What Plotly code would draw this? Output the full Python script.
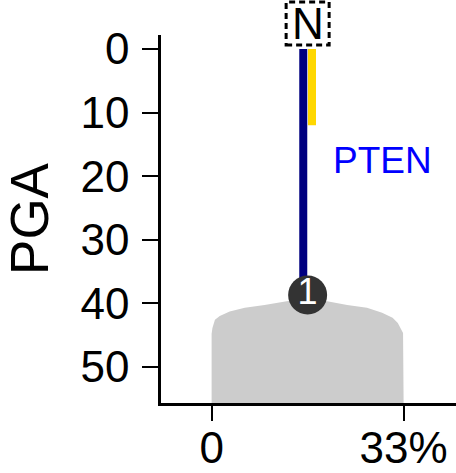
import plotly.graph_objects as go

# --- data ---
x_ticks = [0, 33]
x_ticklabels = ["0", "33%"]
y_ticks = [0, 10, 20, 30, 40, 50]

gene = "PTEN"
blue_x = [15.75, 15.75]
blue_y = [0, 38.7]
yellow_x = [17.25, 17.25]
yellow_y = [0, 12]

circle_x = [16.5]
circle_y = [38.7]
circle_label = ["1"]

density_x = [0, 0, 0.14, 0.57, 1.4, 3.1, 5.7, 9.1, 13.4, 16.3, 19.4, 23.3, 26.7, 29.3, 31.1, 32.0, 32.9, 33, 0]
density_y = [56, 44.8, 43.9, 42.6, 42.0, 41.3, 40.7, 40.3, 39.6, 39.3, 39.6, 40.3, 40.7, 41.5, 42.3, 43.1, 44.7, 56, 56]

label_x = 20.6
label_y = 17.6
box_x = 16.5

FONT = "Arial, Liberation Sans, sans-serif"

fig = go.Figure()

fig.add_trace(go.Scatter(x=density_x, y=density_y, mode="lines", fill="toself",
                         fillcolor="#cccccc", line=dict(width=0, color="#cccccc"),
                         hoverinfo="skip", showlegend=False))
fig.add_trace(go.Scatter(x=blue_x, y=blue_y, mode="lines",
                         line=dict(color="#000080", width=8), showlegend=False))
fig.add_trace(go.Scatter(x=yellow_x, y=yellow_y, mode="lines",
                         line=dict(color="#FFD700", width=8), showlegend=False))
fig.add_trace(go.Scatter(x=circle_x, y=circle_y, mode="markers+text",
                         marker=dict(size=39, color="#333333", line=dict(width=0)),
                         text=circle_label, textposition="middle center",
                         textfont=dict(color="white", size=36, family=FONT),
                         showlegend=False, cliponaxis=False))

fig.add_annotation(x=label_x, y=label_y, xref="x", yref="y", text=gene,
                   showarrow=False, xanchor="left", yanchor="middle",
                   font=dict(color="#0000FF", size=37, family=FONT))

fig.add_annotation(x=box_x, y=1, xref="x", yref="paper", text="N",
                   showarrow=False, xanchor="center", yanchor="middle", yshift=11.5,
                   font=dict(color="black", size=44, family=FONT))
fig.add_shape(type="rect", xref="x", yref="paper", xsizemode="pixel", ysizemode="pixel",
              xanchor=box_x, yanchor=1, x0=-21.5, x1=21.5, y0=-10, y1=33,
              line=dict(color="black", width=3, dash="6px,4px"))

fig.update_layout(
    width=456, height=473,
    margin=dict(l=161, r=0, t=35, b=70, autoexpand=False),
    paper_bgcolor="white", plot_bgcolor="white",
    font=dict(family=FONT, color="black"),
    showlegend=False,
)
fig.update_xaxes(range=[-8.7, 42.0], tickvals=x_ticks, ticktext=x_ticklabels,
                 showgrid=False, zeroline=False, showline=True, linecolor="black",
                 linewidth=2.5, ticks="outside", ticklen=15, tickwidth=2, tickcolor="black",
                 tickfont=dict(size=44, family=FONT), ticklabelstandoff=-11, automargin=False)
fig.update_yaxes(range=[55.7, -2.2], tickvals=y_ticks,
                 showgrid=False, zeroline=False, showline=True, linecolor="black",
                 linewidth=2.5, ticks="outside", ticklen=16, tickwidth=2, tickcolor="black",
                 tickfont=dict(size=44, family=FONT), ticklabelstandoff=4, automargin=False,
                 title=dict(text="PGA", font=dict(size=53, family=FONT), standoff=42))

fig.write_html("out.html", config={"displayModeBar": False},
               post_script="document.body.style.margin='0';document.body.style.overflow='hidden';")
